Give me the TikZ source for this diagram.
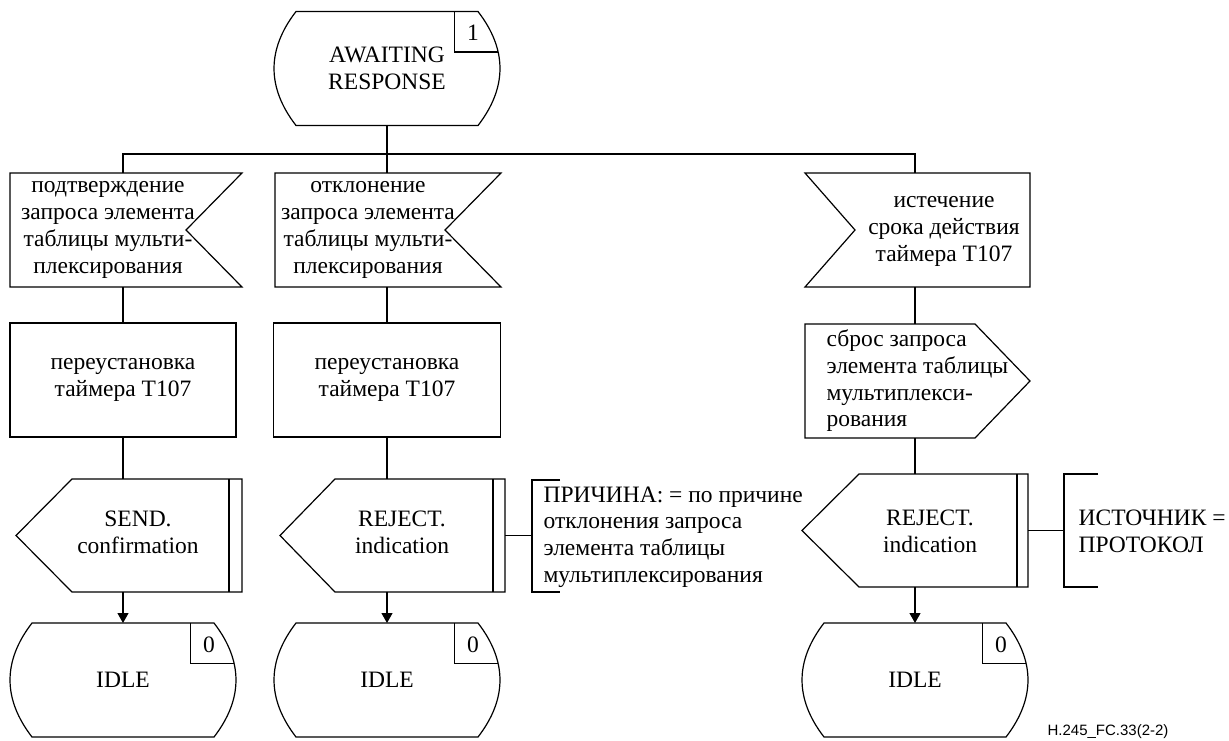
\documentclass[tikz,border=0pt]{standalone}
\usepackage{fontspec}
\setmainfont{Liberation Serif}
\newfontfamily\labelfont{Liberation Sans}
\usetikzlibrary{arrows.meta}
\tikzset{
  frame/.style={inner sep=0pt, outer sep=0pt, draw=none},
  txt/.style={inner sep=0pt, font=\fontsize{23.5}{27}\selectfont, align=center},
  txtl/.style={inner sep=0pt, font=\fontsize{23.5}{26.7}\selectfont, align=left, anchor=west},
  arr/.style={-{Triangle[length=10pt,width=11pt]}},
}
% state symbol drawn round node #1, number #2
\newcommand\SDLstate[2]{%
  \begin{scope}[shift={(#1.center)}]
    \draw (-91,-57) -- (91,-57) .. controls (120.3,-19) and (120.3,19) .. (91,57)
      -- (-91,57) .. controls (-120.3,19) and (-120.3,-19) .. (-91,-57) -- cycle;
    \draw (67.5,-57) -- (67.5,-16.5) -- (111,-16.5);
    \node[txt] (#1num) at (86,-35.5) {#2};
  \end{scope}}
% input, notch on the right: name, left, right, notch, half height
\newcommand\SDLinR[5]{%
  \begin{scope}[shift={(#1.center)}]
    \draw (#2,-#5) -- (#3,-#5) -- (#4,0) -- (#3,#5) -- (#2,#5) -- cycle;
  \end{scope}}
% input, notch on the left: name, left, right, tip, half height
\newcommand\SDLinL[5]{%
  \begin{scope}[shift={(#1.center)}]
    \draw (#2,-#5) -- (#3,-#5) -- (#3,#5) -- (#2,#5) -- (#4,0) -- cycle;
  \end{scope}}
% output: name, tip, slant, right, inner, half height
\newcommand\SDLout[6]{%
  \begin{scope}[shift={(#1.center)}]
    \draw (#2,0) -- (#3,-#6) -- (#4,-#6) -- (#4,#6) -- (#3,#6) -- cycle;
    \draw (#5,-#6) -- (#5,#6);
  \end{scope}}
% procedure call (pointed right): name, left, flat right, point, half height
\newcommand\SDLproc[5]{%
  \begin{scope}[shift={(#1.center)}]
    \draw (#2,-#5) -- (#3,-#5) -- (#4,0) -- (#3,#5) -- (#2,#5) -- cycle;
  \end{scope}}
\begin{document}
\begin{tikzpicture}[x=1pt,y=-1pt,line width=1.2pt]
\useasboundingbox (0,0) rectangle (1229,740);

% top state
\node[frame,txt,minimum width=226pt,minimum height=114pt] (s1) at (387,68.5) {AWAITING\\RESPONSE};
\SDLstate{s1}{1}

% inputs
\node[frame,minimum width=232pt,minimum height=114pt] (i1) at (123,230) {};
\SDLinR{i1}{-113}{119}{63}{57}
\node[txt] (i1t) at (108,229.5) {подтверждение\\запроса элемента\\таблицы мульти-\\плексирования};

\node[frame,minimum width=226pt,minimum height=114pt] (i2) at (387,230) {};
\SDLinR{i2}{-112}{114}{58}{57}
\node[txt] (i2t) at (368,229.5) {отклонение\\запроса элемента\\таблицы мульти-\\плексирования};

\node[frame,minimum width=226pt,minimum height=114pt] (i3) at (915,230) {};
\SDLinL{i3}{-110}{115}{-60}{57}
\node[txt] (i3t) at (944,231) {истечение\\срока действия\\таймера T107};

% tasks
\node[frame,draw,txt,minimum width=226pt,minimum height=114pt] (t1) at (123,380) {переустановка\\таймера T107};
\node[frame,draw,txt,minimum width=227pt,minimum height=114pt] (t2) at (387,380) {переустановка\\таймера T107};

% procedure
\node[frame,minimum width=230pt,minimum height=114pt] (p3) at (915,381) {};
\SDLproc{p3}{-110}{60}{115}{57}
\node[txtl] (p3t) at (826,381) {сброс запроса\\элемента таблицы\\мультиплекси-\\рования};

% outputs
\node[frame,minimum width=238pt,minimum height=113pt] (o1) at (123,535.5) {};
\SDLout{o1}{-107}{-51}{119}{106}{56.5}
\node[txt] (o1t) at (138,532) {SEND.\\confirmation};

\node[frame,minimum width=236pt,minimum height=113pt] (o2) at (387,535.5) {};
\SDLout{o2}{-107}{-52}{118}{106}{56.5}
\node[txt] (o2t) at (402,532) {REJECT.\\indication};

\node[frame,minimum width=226pt,minimum height=113pt] (o3) at (915,530.5) {};
\SDLout{o3}{-113}{-56}{113}{102}{56.5}
\node[txt] (o3t) at (930,531) {REJECT.\\indication};

% comments
\coordinate (c2a) at (532,535.5);
\draw (560,480) -- (532,480) -- (532,592) -- (560,592);
\node[txtl] (c2t) at (543,537) {ПРИЧИНА: = по причине\\отклонения запроса\\элемента таблицы\\мультиплексирования};
\coordinate (c3a) at (1064,530.5);
\draw (1098,474) -- (1064,474) -- (1064,587) -- (1098,587);
\node[txtl] (c3t) at (1078,531) {ИСТОЧНИК =\\ПРОТОКОЛ};

% final states
\node[frame,txt,minimum width=226pt,minimum height=114pt] (d1) at (123,680) {IDLE};
\SDLstate{d1}{0}
\node[frame,txt,minimum width=226pt,minimum height=114pt] (d2) at (387,680) {IDLE};
\SDLstate{d2}{0}
\node[frame,txt,minimum width=226pt,minimum height=114pt] (d3) at (915,680) {IDLE};
\SDLstate{d3}{0}

% connectors
\draw (s1.south) -- (i2.north);
\draw (i1.north) -- ++(0,-19) -| (i3.north);
\draw (i1.south) -- (t1.north);
\draw (i2.south) -- (t2.north);
\draw (i3.south) -- (p3.north);
\draw (t1.south) -- (o1.north);
\draw (t2.south) -- (o2.north);
\draw (p3.south) -- (o3.north);
\draw[arr] (o1.south) -- (d1.north);
\draw[arr] (o2.south) -- (d2.north);
\draw[arr] (o3.south) -- (d3.north);
\draw (o2.east) -- (c2a);
\draw (o3.east) -- (c3a);

% figure label
\node[inner sep=0pt,anchor=base west,font=\labelfont\fontsize{15}{18}\selectfont] (lbl) at (1047,735) {H.245\_FC.33(2-2)};
\end{tikzpicture}
\end{document}
